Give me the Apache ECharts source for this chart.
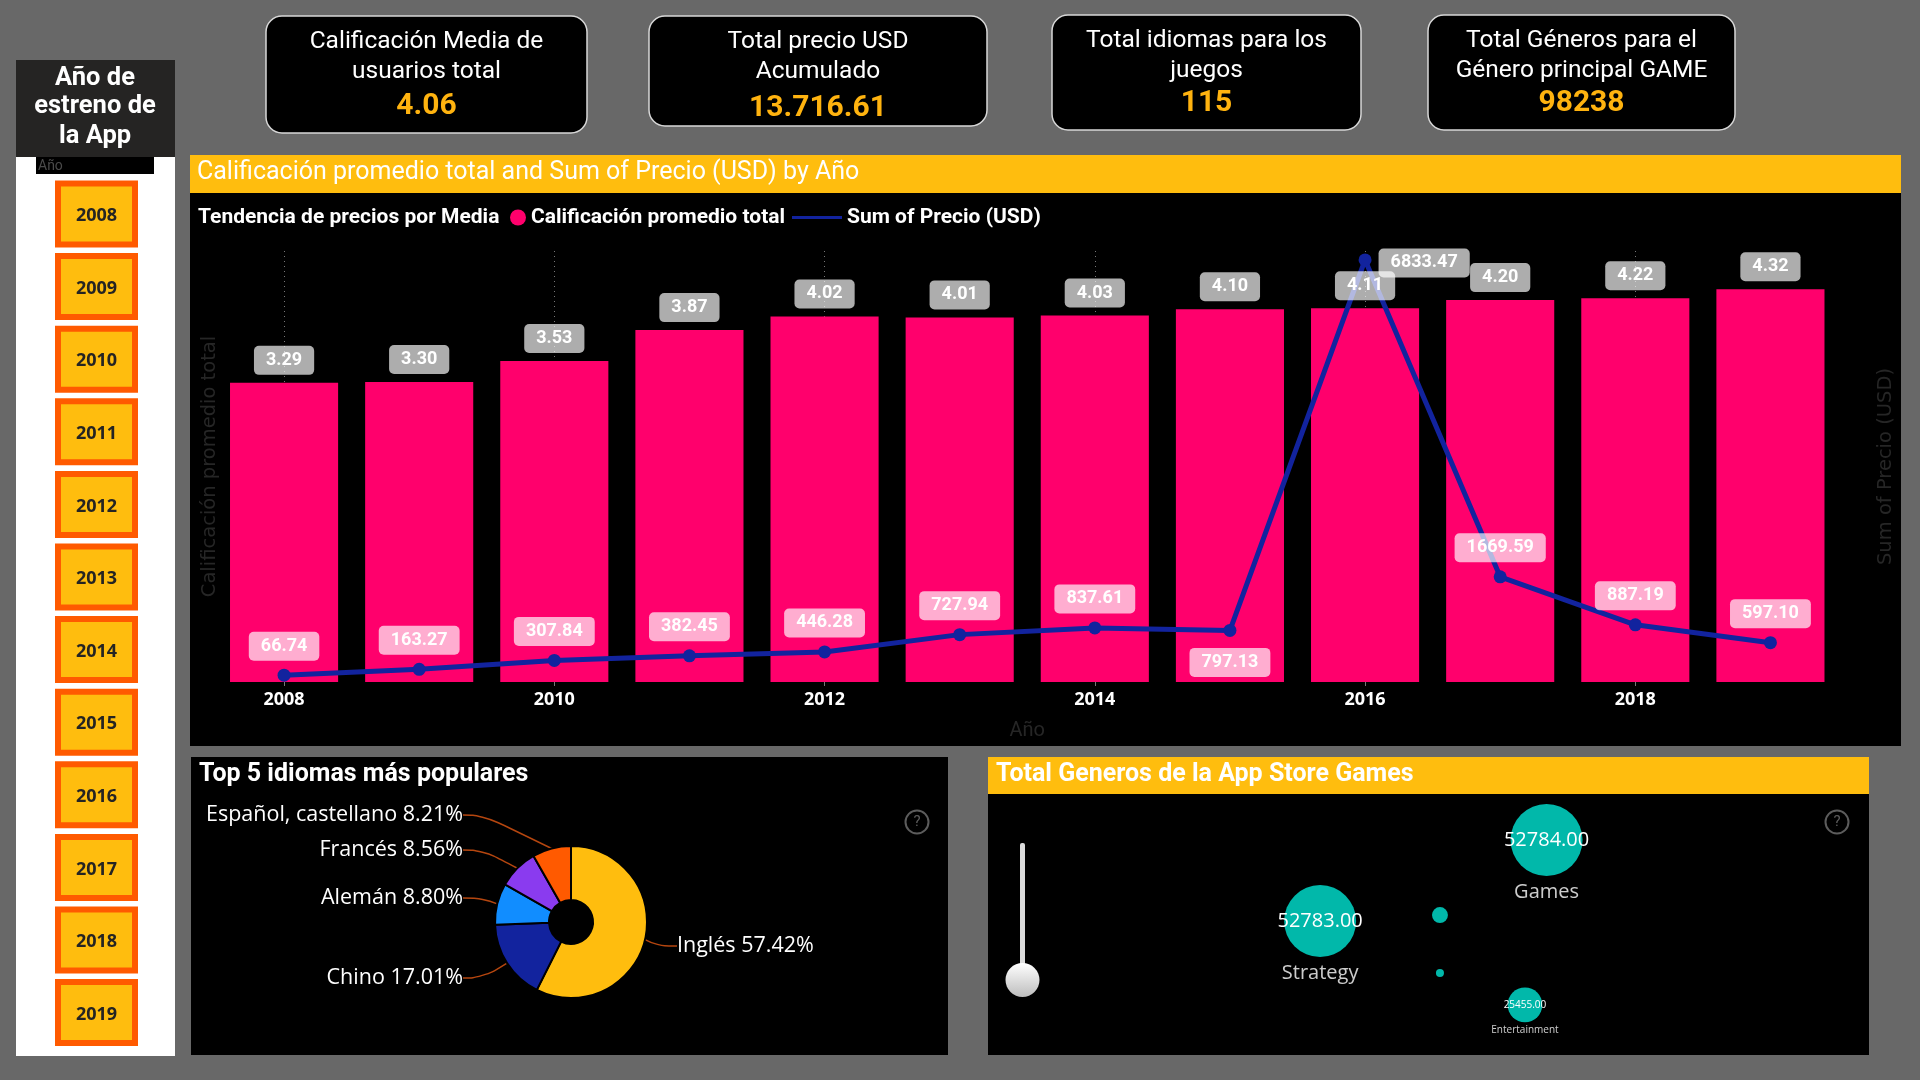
<!DOCTYPE html>
<html><head><meta charset="utf-8">
<style>html,body{margin:0;padding:0;background:#686868}#c{width:1920px;height:1080px}</style>
<script src="https://cdn.jsdelivr.net/npm/echarts@6/dist/echarts.min.js"></script>
</head><body><div id="c"></div>
<script>
// ---- data ----
const years = ['2008','2009','2010','2011','2012','2013','2014','2015','2016','2017','2018','2019'];
const ratings = [3.29,3.30,3.53,3.87,4.02,4.01,4.03,4.10,4.11,4.20,4.22,4.32];
const prices = [66.74,163.27,307.84,382.45,446.28,727.94,837.61,797.13,6833.47,1669.59,887.19,597.10];
const langNames = ['Inglés','Chino','Alemán','Francés','Español, castellano'];
const langShares = [57.42,17.01,8.80,8.56,8.21];
const genreNames = ['Games','Strategy','','','Entertainment'];
const genreValues = [52784,52783,11700,5900,25455];
const genreLayoutX = [63.4,37.7,51.3,51.3,60.95];
const genreLayoutY = [82.4,51.3,53.6,31.4,19.2];
const kpiTitles = [['Calificación Media de','usuarios total'],['Total precio USD','Acumulado'],['Total idiomas para los','juegos'],['Total Géneros para el','Género principal GAME']];
const kpiValues = ['4.06','13.716.61','115','98238'];

// ---- style ----
const YEL='#FFBD0E', ORG='#FF5A00', PINK='#FF006C', NAVY='#12239E', TEAL='#01B8AA';
const DIN='Roboto', UI='"Open Sans"';
const seriesBar='Calificación promedio total', seriesLine='Sum of Precio (USD)';

const g=[];
const rect=(x,y,w,h,fill,extra={})=>g.push({type:'rect',z:-10,shape:{x,y,width:w,height:h,r:extra.r||0},style:{fill,stroke:extra.stroke,lineWidth:extra.lw}});
const text=(x,y,t,size,fill,weight='normal',align='center',family=DIN)=>g.push({type:'text',z:1,x,y:y+(size>=16?2:0),style:{text:t,font:`${weight} ${size}px ${family}`,fill,textAlign:align,textVerticalAlign:'middle'}});

// panels
rect(190,155,1711,38,YEL); rect(190,193,1711,553,'#000');
rect(191,757,757,298,'#000');
rect(988,757,881,37,YEL); rect(988,794,881,261,'#000');
text(197,171,'Calificación promedio total and Sum of Precio (USD) by Año',25,'#fff','normal','left');
text(198,216,'Tendencia de precios por Media',21,'#fff','bold','left');
text(199,773,'Top 5 idiomas más populares',25,'#fff','bold','left');
text(996,773,'Total Generos de la App Store Games',25,'#fff','bold','left');

// KPI cards
const cards=[[266,16,321,117,[40,70,104]],[649,16,338,110,[40,70,106]],[1052,15,309,115,[39,69,101]],[1428,15,307,115,[39,69,101]]];
cards.forEach((c,i)=>{
  rect(c[0],c[1],c[2],c[3],'#000',{r:16,stroke:'#d8d8d8',lw:1.5});
  const cx=c[0]+c[2]/2;
  text(cx,c[4][0],kpiTitles[i][0],24.5,'#fff');
  text(cx,c[4][1],kpiTitles[i][1],24.5,'#fff');
  text(cx,c[4][2],kpiValues[i],30,'#FFB30F','bold');
});

// year slicer
rect(16,60,159,97,'#252423'); rect(16,157,159,899,'#fff'); rect(36,157,118,17,'#000');
['Año de','estreno de','la App'].forEach((t,i)=>text(95,[77,105,135][i],t,25.5,'#fff','bold'));
text(38,166,'Año',14,'#4a4a4a','normal','left');
years.forEach((y,i)=>{
  const cy=214+i*72.6;
  rect(55,cy-33.5,83,67,ORG); rect(61,cy-27.5,71,55,YEL);
  text(96.5,cy,y,18,'#252423','bold','center',UI);
});

// help icons
[917,1837].forEach(x=>{
  g.push({type:'circle',z:1,shape:{cx:x,cy:822,r:11.5},style:{fill:'none',stroke:'#5c5c5c',lineWidth:2}});
  text(x,822,'?',15,'#5c5c5c');
});

// range slider
rect(1020,843,5,130,'#dcdcdc',{r:2});
g.push({type:'circle',z:1,shape:{cx:1022.5,cy:980,r:17},style:{fill:{type:'linear',x:0,y:0,x2:0,y2:1,colorStops:[{offset:0,color:'#fff'},{offset:1,color:'#bdbdbd'}]}}});

// label placement per year for the price line
const priceLabelStyle={
  '2015':{position:'bottom',distance:11},
  '2016':{position:'right',distance:7,offset:[0,3]}
};

// pie label anchors
const pieAnchors={
  'Inglés':{x:677,y:946,align:'left'},
  'Chino':{x:463,y:978,align:'right'},
  'Alemán':{x:463,y:898,align:'right'},
  'Francés':{x:463,y:850,align:'right'},
  'Español, castellano':{x:463,y:815,align:'right'}
};
const pieColors=[YEL,NAVY,'#118DFF','#8A3BEF',ORG];

const baseLabel={color:'#fff',fontFamily:DIN,fontWeight:'bold',fontSize:18,lineHeight:17,padding:[6,12],borderRadius:5,backgroundColor:'rgba(255,255,255,0.68)'};

const option={
  backgroundColor:'#686868',
  animation:false,
  graphic:{elements:g},
  legend:[
    {data:[{name:seriesBar,icon:'circle'}],left:505,top:202,itemWidth:16,itemHeight:16,textStyle:{color:'#fff',fontFamily:DIN,fontWeight:'bold',fontSize:21},selectedMode:false},
    {data:[{name:seriesLine,icon:'rect'}],left:787,top:202,itemWidth:50,itemHeight:3,textStyle:{color:'#fff',fontFamily:DIN,fontWeight:'bold',fontSize:21},selectedMode:false}
  ],
  grid:[
    {left:216.5,top:251,width:1621.5,height:431},
    {left:988,top:794,width:881,height:261}
  ],
  xAxis:[
    {type:'category',gridIndex:0,data:years,
     axisLine:{show:false},
     axisTick:{show:true,alignWithLabel:true,interval:1,length:4,lineStyle:{color:'#777'}},
     axisLabel:{interval:1,color:'#fff',fontFamily:UI,fontWeight:'bold',fontSize:18,margin:9},
     splitLine:{show:true,alignWithLabel:true,interval:1,lineStyle:{color:'#777',type:[1,4],width:1}},
     name:'Año',nameLocation:'middle',nameGap:39,nameTextStyle:{color:'#262626',fontFamily:DIN,fontSize:20}},
    {type:'value',gridIndex:1,min:0,max:100,show:false}
  ],
  yAxis:[
    {type:'value',gridIndex:0,min:0,max:4.74,axisLabel:{show:false},axisLine:{show:false},axisTick:{show:false},splitLine:{show:false},
     name:'Calificación promedio total',nameLocation:'middle',nameRotate:90,nameGap:-3,nameTextStyle:{color:'#262626',fontFamily:'DejaVu Sans',fontSize:19.5}},
    {type:'value',gridIndex:0,position:'right',min:-44,max:6979,axisLabel:{show:false},axisLine:{show:false},axisTick:{show:false},splitLine:{show:false},
     name:'Sum of Precio (USD)',nameLocation:'middle',nameRotate:90,nameGap:38,nameTextStyle:{color:'#262626',fontFamily:'DejaVu Sans',fontSize:19.5}},
    {type:'value',gridIndex:1,min:0,max:100,show:false}
  ],
  series:[
    {type:'bar',name:seriesBar,z:2,xAxisIndex:0,yAxisIndex:0,data:ratings,barCategoryGap:'20%',barGap:'-100%',itemStyle:{color:PINK}},
    {type:'line',name:seriesLine,z:3,xAxisIndex:0,yAxisIndex:1,symbol:'circle',symbolSize:13,
     lineStyle:{color:NAVY,width:5},itemStyle:{color:NAVY},
     data:prices.map((v,i)=>({value:v,label:priceLabelStyle[years[i]]||{position:'top',distance:8}})),
     label:{...baseLabel,show:true,formatter:p=>p.value.toFixed(2)}},
    {type:'bar',name:'Etiquetas de calificación',z:4,xAxisIndex:0,yAxisIndex:0,data:ratings,barCategoryGap:'20%',barGap:'-100%',
     itemStyle:{color:'rgba(0,0,0,0)'},silent:true,
     label:{...baseLabel,show:true,position:'top',distance:8,formatter:p=>p.value.toFixed(2)}},
    {type:'pie',name:'Top 5 idiomas',center:[571,922],radius:[22,76],startAngle:90,clockwise:true,
     data:langNames.map((n,i)=>({name:n,value:langShares[i],itemStyle:{color:pieColors[i]}})),
     itemStyle:{borderColor:'#000',borderWidth:2},
     label:{color:'#fff',fontFamily:UI,fontSize:21.5,formatter:p=>`${p.name} ${p.value.toFixed(2)}%`},
     labelLine:{show:true,smooth:0.5,length:20,length2:20,lineStyle:{color:'#B5460F',width:1.5}},
     labelLayout:p=>({...pieAnchors[langNames[p.dataIndex]],verticalAlign:'middle'})},
    {type:'scatter',name:'Generos',xAxisIndex:1,yAxisIndex:2,
     data:genreValues.map((v,i)=>({name:genreNames[i],value:[genreLayoutX[i],genreLayoutY[i],v],
        label:{show:!!genreNames[i],fontSize:v>40000?20:10}})),
     symbolSize:d=>d[2]*72/52784,itemStyle:{color:TEAL,opacity:1},
     label:{position:'inside',color:'#fff',fontFamily:UI,formatter:p=>p.value[2].toFixed(2)}},
    {type:'scatter',name:'Generos nombres',xAxisIndex:1,yAxisIndex:2,
     data:genreValues.map((v,i)=>({name:genreNames[i],value:[genreLayoutX[i],genreLayoutY[i],v],
        label:{show:!!genreNames[i],fontSize:v>40000?20:10,distance:v>40000?6:3}})),
     symbolSize:d=>d[2]*72/52784,itemStyle:{color:'rgba(0,0,0,0)'},
     label:{position:'bottom',color:'#fff',fontFamily:UI,formatter:p=>p.name}}
  ]
};
echarts.init(document.getElementById('c'),null,{renderer:'canvas'}).setOption(option);
</script></body></html>
